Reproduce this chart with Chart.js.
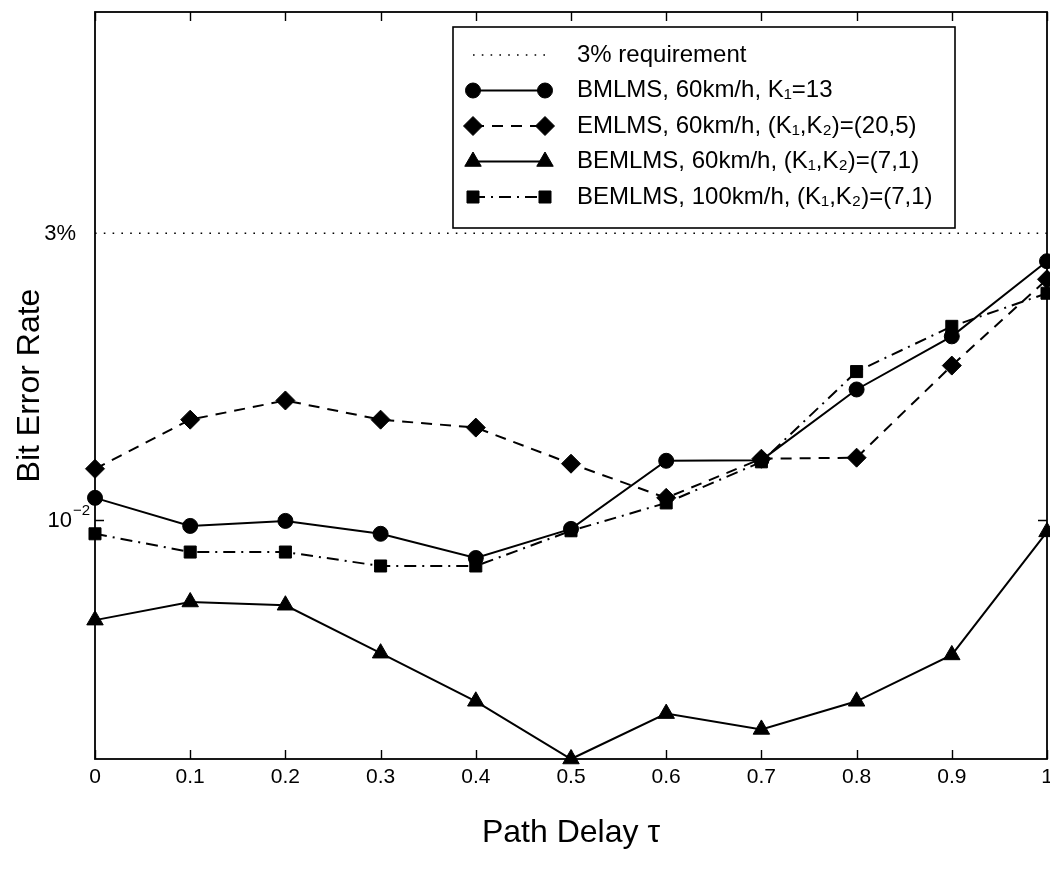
<!DOCTYPE html>
<html>
<head>
<meta charset="utf-8">
<title>Bit Error Rate vs Path Delay</title>
<script src="https://cdn.jsdelivr.net/npm/chart.js@4.4.1/dist/chart.umd.min.js"></script>
<style>
  html, body { margin: 0; padding: 0; background: #fff; }
  #wrap { width: 1050px; height: 870px; position: relative; }
</style>
</head>
<body>
<div id="wrap"><canvas id="berChart"></canvas></div>
<script>
// path delay tau (x) and bit error rate per scheme (y, log scale)
const delays = [0, 0.1, 0.2, 0.3, 0.4, 0.5, 0.6, 0.7, 0.8, 0.9, 1];
const xTickLabels = ['0', '0.1', '0.2', '0.3', '0.4', '0.5', '0.6', '0.7', '0.8', '0.9', '1'];

const requirementX = [0, 1];
const requirement = [0.03, 0.03];
const bmlms60 = [0.01088, 0.00977, 0.00996, 0.00948, 0.00864, 0.00966, 0.01254, 0.01257, 0.01648, 0.0202, 0.02694];
const emlms60 = [0.01216, 0.01468, 0.0158, 0.01468, 0.01424, 0.0124, 0.01088, 0.01264, 0.01269, 0.01806, 0.02514];
const bemlms60 = [0.00681, 0.0073, 0.00721, 0.0060, 0.00499, 0.0040, 0.00476, 0.00448, 0.00499, 0.00596, 0.00955];
const bemlms100 = [0.00948, 0.00884, 0.00884, 0.00838, 0.00838, 0.00959, 0.01067, 0.01249, 0.01765, 0.02099, 0.02383];

const seriesLabels = [
  '3% requirement',
  'BMLMS, 60km/h, K\u2081=13',
  'EMLMS, 60km/h, (K\u2081,K\u2082)=(20,5)',
  'BEMLMS, 60km/h, (K\u2081,K\u2082)=(7,1)',
  'BEMLMS, 100km/h, (K\u2081,K\u2082)=(7,1)'
];

// y labels: base text plus optional superscript
const yTickValues = [0.01, 0.03];
const yTickBase = ['10', '3%'];
const yTickSup = ['\u22122', ''];
const yTickMarks = [0.01];

const FONT = '"Liberation Sans", Arial, Helvetica, sans-serif';
Chart.defaults.font.family = FONT;
Chart.defaults.color = '#000';

const pts = (xs, ys) => xs.map((x, i) => ({ x: x, y: ys[i] }));

function series(label, xs, ys, style) {
  return Object.assign({
    label: label,
    data: pts(xs, ys),
    borderColor: '#000',
    backgroundColor: '#000',
    pointBackgroundColor: '#000',
    pointBorderColor: '#000',
    pointBorderWidth: 1,
    borderWidth: 2,
    tension: 0,
    clip: false
  }, style);
}

const datasets = [
  series(seriesLabels[0], requirementX, requirement, {
    borderDash: [1.6, 7.2], borderWidth: 1.5, pointRadius: 0, pointStyle: false
  }),
  series(seriesLabels[1], delays, bmlms60, {
    borderDash: [], pointStyle: 'circle', pointRadius: 7.5
  }),
  series(seriesLabels[2], delays, emlms60, {
    borderDash: [11, 8], pointStyle: 'rectRot', pointRadius: 9.5
  }),
  series(seriesLabels[3], delays, bemlms60, {
    borderDash: [], pointStyle: 'triangle', pointRadius: 9.5
  }),
  series(seriesLabels[4], delays, bemlms100, {
    borderDash: [12, 6, 2, 6], pointStyle: 'rect', pointRadius: 8.5
  })
];

// box around the plot, inward ticks, and y labels with superscripts
const frameAndTicks = {
  id: 'frameAndTicks',
  afterDraw(chart) {
    const { ctx, chartArea: a, scales: { x, y } } = chart;
    ctx.save();
    ctx.strokeStyle = '#000';
    ctx.lineWidth = 1.8;
    ctx.strokeRect(a.left, a.top, a.right - a.left, a.bottom - a.top);

    ctx.lineWidth = 1.4;
    ctx.beginPath();
    delays.forEach(v => {
      const px = Math.round(x.getPixelForValue(v)) + 0.5;
      ctx.moveTo(px, a.bottom); ctx.lineTo(px, a.bottom - 9);
      ctx.moveTo(px, a.top); ctx.lineTo(px, a.top + 9);
    });
    yTickMarks.forEach(v => {
      const py = Math.round(y.getPixelForValue(v)) + 0.5;
      ctx.moveTo(a.left, py); ctx.lineTo(a.left + 9, py);
      ctx.moveTo(a.right, py); ctx.lineTo(a.right - 9, py);
    });
    ctx.stroke();

    ctx.fillStyle = '#000';
    ctx.textBaseline = 'middle';
    yTickValues.forEach((v, i) => {
      const py = y.getPixelForValue(v);
      const sup = yTickSup[i];
      const right = sup ? a.left - 23 : a.left - 19;
      ctx.font = '22px ' + FONT;
      ctx.textAlign = 'right';
      ctx.fillText(yTickBase[i], right, py + 1);
      if (sup) {
        ctx.font = '15px ' + FONT;
        ctx.textAlign = 'left';
        ctx.fillText(sup, right + 1, py - 9);
      }
    });
    ctx.restore();
  }
};

// legend box in the upper right of the plot
const boxLegend = {
  id: 'boxLegend',
  afterDraw(chart) {
    const { ctx, chartArea: a } = chart;
    const left = a.right - 594, top = a.top + 15;
    const width = 502, height = 201;
    const lineX0 = left + 20, lineX1 = left + 92, textX = left + 124;
    ctx.save();
    ctx.fillStyle = '#fff';
    ctx.fillRect(left, top, width, height);
    ctx.strokeStyle = '#000';
    ctx.lineWidth = 1.6;
    ctx.strokeRect(left, top, width, height);

    chart.data.datasets.forEach((ds, i) => {
      const yy = top + 28 + i * 35.5;
      ctx.strokeStyle = '#000';
      ctx.lineWidth = ds.borderWidth;
      ctx.setLineDash(ds.borderDash || []);
      ctx.beginPath();
      ctx.moveTo(lineX0, yy);
      ctx.lineTo(lineX1, yy);
      ctx.stroke();
      ctx.setLineDash([]);
      if (ds.pointStyle && ds.pointRadius > 0) {
        ctx.fillStyle = '#000';
        ctx.lineWidth = 1;
        [lineX0, lineX1].forEach(px => {
          Chart.helpers.drawPoint(ctx, {
            pointStyle: ds.pointStyle, radius: ds.pointRadius, borderWidth: 1, rotation: 0
          }, px, yy);
        });
      }
      ctx.fillStyle = '#000';
      ctx.font = '24px ' + FONT;
      ctx.textAlign = 'left';
      ctx.textBaseline = 'middle';
      ctx.fillText(ds.label, textX, yy);
    });
    ctx.restore();
  }
};

const config = {
  type: 'line',
  data: { datasets: datasets },
  options: {
    responsive: true,
    maintainAspectRatio: false,
    animation: false,
    layout: { autoPadding: false, padding: { top: 12, right: 3, bottom: 0, left: 0 } },
    scales: {
      x: {
        type: 'linear',
        min: 0,
        max: 1,
        afterBuildTicks: scale => { scale.ticks = delays.map(v => ({ value: v })); },
        afterFit: scale => {
          scale.height = 111;
          scale.paddingLeft = 0;
          scale.paddingRight = 0;
        },
        ticks: {
          autoSkip: false,
          maxRotation: 0,
          padding: 6,
          color: '#000',
          font: { size: 21 },
          callback: (value, index) => xTickLabels[index]
        },
        grid: { display: false, drawTicks: false },
        border: { display: false },
        title: {
          display: true,
          text: 'Path Delay \u03c4',
          color: '#000',
          font: { size: 32 },
          padding: { top: 0, bottom: 18 }
        }
      },
      y: {
        type: 'logarithmic',
        min: 0.004,
        max: 0.07,
        afterBuildTicks: scale => { scale.ticks = yTickValues.map(v => ({ value: v })); },
        afterFit: scale => {
          scale.width = 95;
          scale.paddingTop = 0;
          scale.paddingBottom = 0;
        },
        ticks: { display: false },
        grid: { display: false, drawTicks: false },
        border: { display: false },
        title: {
          display: true,
          text: 'Bit Error Rate',
          color: '#000',
          font: { size: 32 },
          padding: { top: 11, bottom: 0 }
        }
      }
    },
    plugins: {
      legend: { display: false },
      tooltip: { enabled: false }
    }
  },
  plugins: [frameAndTicks, boxLegend]
};

new Chart(document.getElementById('berChart').getContext('2d'), config);
</script>
</body>
</html>
